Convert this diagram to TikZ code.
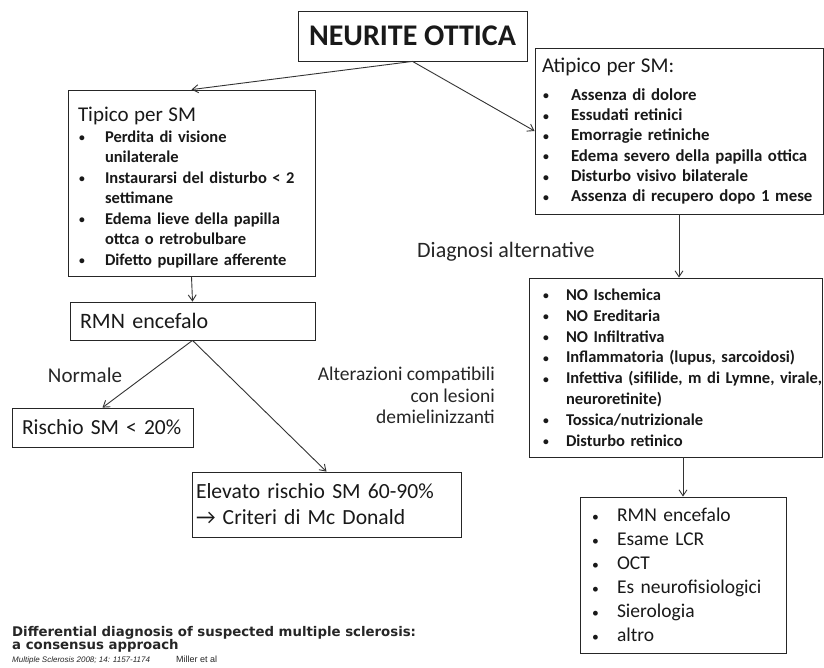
\documentclass[tikz,border=0pt]{standalone}
\usepackage{graphicx}
\usepackage{fontspec}
\setmainfont{Carlito}
\newfontfamily\reffont{DejaVu Sans}
\newfontfamily\citefont{Liberation Sans}
\usetikzlibrary{arrows.meta}
\tikzset{
  box/.style={draw=black!85,line width=0.8pt,inner ysep=0pt,align=left,text=black!90},
  conn/.style={draw=black!80,line width=0.9pt,-{Straight Barb[length=6pt,width=8pt]}},
  lbl/.style={text=black!85,inner sep=0pt},
}
\newcommand{\itm}[2][27pt]{\mbox{\makebox[#1][l]{\hspace{1pt}\raisebox{0.5pt}{\scalebox{0.7}{\textbullet}}}#2}}
\newcommand{\cnt}[2][27pt]{\mbox{\hspace*{#1}#2}}

\begin{document}
\begin{tikzpicture}[x=1pt,y=-1pt]
\useasboundingbox[fill=white] (0,0) rectangle (824,667);
\node [box,align=center,minimum width=229pt,minimum height=50pt,font=\fontsize{30}{32}\selectfont\bfseries] (neurite) at (412.5,36) {NEURITE OTTICA};
\node [box,inner xsep=10pt,text width=227pt,minimum height=186pt,font=\fontsize{16.5}{20.5}\selectfont\bfseries] (tipico) at (191.5,183) {%
{\fontsize{21}{21}\selectfont\mdseries\rule{0pt}{24pt}Tipico per SM}\\
\itm{Perdita di visione}\\
\cnt{unilaterale}\\
\itm{Instaurarsi del disturbo < 2}\\
\cnt{settimane}\\
\itm{Edema lieve della papilla}\\
\cnt{ottca o retrobulbare}\\
\itm{Difetto pupillare afferente}};
\node [box,inner xsep=7pt,text width=274pt,minimum height=166pt,font=\fontsize{16.8}{20.3}\selectfont\bfseries] (atipico) at (679,131) {%
{\fontsize{21}{21}\selectfont\mdseries Atipico per SM:}\\[8pt]
\itm[29pt]{Assenza di dolore}\\
\itm[29pt]{Essudati retinici}\\
\itm[29pt]{Emorragie retiniche}\\
\itm[29pt]{Edema severo della papilla ottica}\\
\itm[29pt]{Disturbo visivo bilaterale}\\
\itm[29pt]{Assenza di recupero dopo 1 mese}};
\node [box,inner xsep=10pt,text width=225pt,minimum height=38pt,font=\fontsize{22}{26}\selectfont] (rmn) at (192.5,321) {RMN encefalo};
\node [box,inner xsep=10pt,text width=161pt,minimum height=39pt,font=\fontsize{21.5}{26}\selectfont] (rischio) at (102.5,427.5) {\mbox{Rischio SM < 20\%}};
\node [box,inner xsep=4pt,text width=261pt,minimum height=65pt,font=\fontsize{21.6}{26}\selectfont] (elevato) at (326.5,504.5) {\mbox{Elevato rischio SM 60-90\%}\\\mbox{→ Criteri di Mc Donald}};
\node [box,inner xsep=13pt,text width=267pt,minimum height=179pt,font=\fontsize{16.5}{20.8}\selectfont\bfseries] (noinfo) at (675.5,367.5) {%
\itm[24pt]{NO Ischemica}\\
\itm[24pt]{NO Ereditaria}\\
\itm[24pt]{NO Infiltrativa}\\
\itm[24pt]{Inflammatoria (lupus, sarcoidosi)}\\
\itm[24pt]{Infettiva (sifilide, m di Lymne, virale,}\\
\cnt[24pt]{neuroretinite)}\\
\itm[24pt]{Tossica/nutrizionale}\\
\itm[24pt]{Disturbo retinico}};
\node [box,inner xsep=11pt,text width=184pt,minimum height=156pt,font=\fontsize{19.5}{24}\selectfont] (esami) at (683,575) {%
\itm[26pt]{RMN encefalo}\\
\itm[26pt]{Esame LCR}\\
\itm[26pt]{OCT}\\
\itm[26pt]{Es neurofisiologici}\\
\itm[26pt]{Sierologia}\\
\itm[26pt]{altro}};
\node [lbl,font=\fontsize{21}{24}\selectfont] (normale) at (85,375) {Normale};
\node [lbl,align=right,anchor=north east,font=\fontsize{19.5}{21.5}\selectfont] (alteraz) at (495,367) {Alterazioni compatibili\\con lesioni\\demielinizzanti};
\node [lbl,anchor=west,font=\fontsize{22}{26}\selectfont] (diagnosi) at (417,252) {Diagnosi alternative};
\node [lbl,anchor=north west,align=left,font=\reffont\fontsize{13.3}{13}\selectfont\bfseries] (fonte) at (12,626) {Differential diagnosis of suspected multiple sclerosis:\\a consensus approach\\
{\citefont\fontsize{8}{13}\selectfont\mdseries\itshape Multiple Sclerosis 2008; 14: 1157-1174}\hspace{26pt}{\citefont\fontsize{9}{13}\selectfont\mdseries Miller et al}};
\draw [conn] (neurite.south) -- (tipico.north);
\draw [conn] (neurite.south) -- (atipico.west);
\draw [conn] (tipico.south) -- (rmn.north);
\draw [conn] (rmn.south) -- (rischio.north);
\draw [conn] (rmn.south) -- (elevato.north);
\draw [conn] (atipico.south) -- (atipico.south |- noinfo.north);
\draw [conn] (esami.north |- noinfo.south) -- (esami.north);
\end{tikzpicture}
\end{document}
